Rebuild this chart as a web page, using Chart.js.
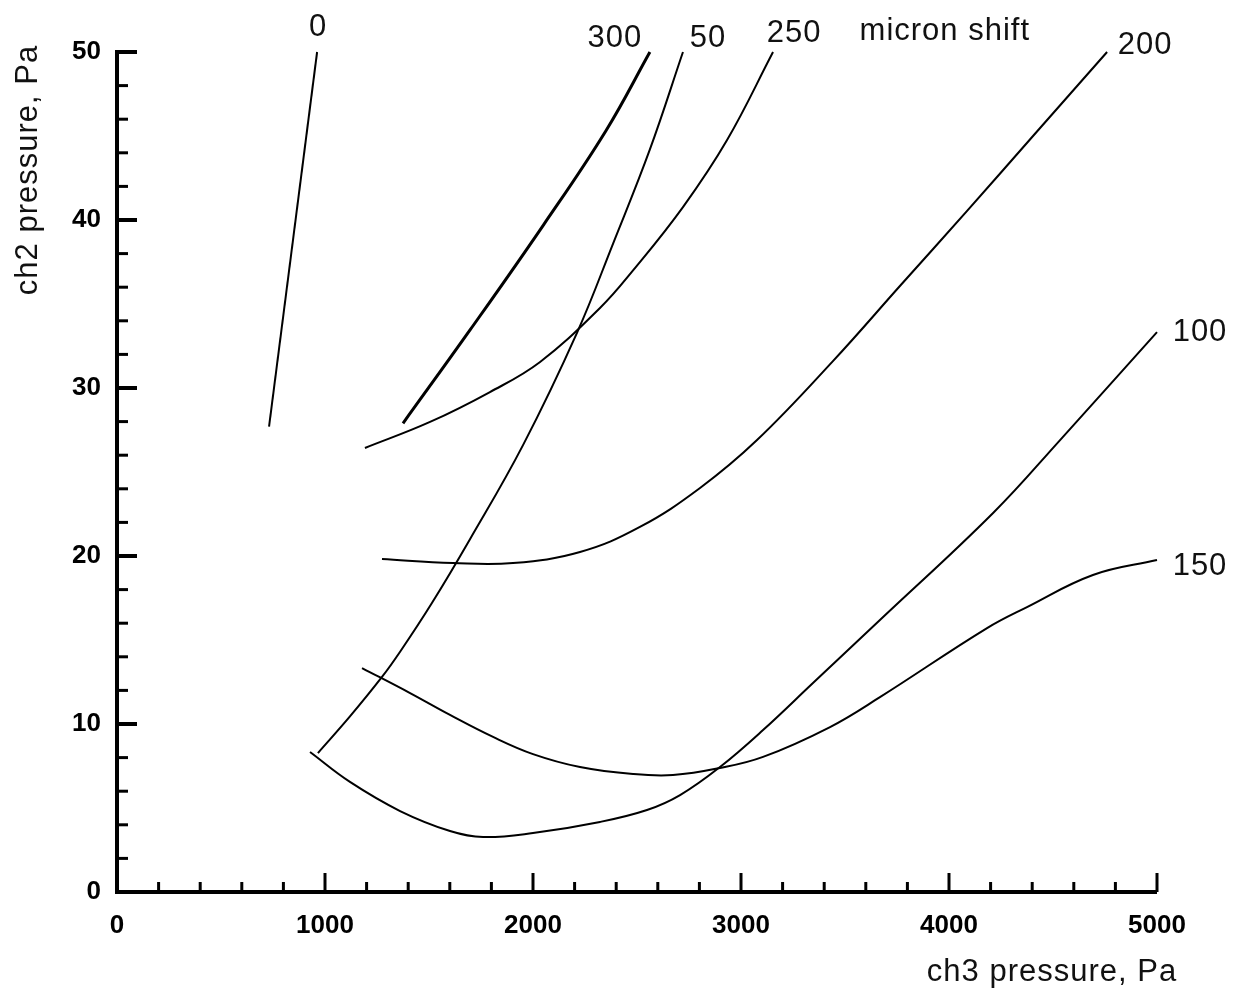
<!DOCTYPE html>
<html>
<head>
<meta charset="utf-8">
<title>micron shift</title>
<script src="https://cdn.jsdelivr.net/npm/chart.js@4.4.1/dist/chart.umd.min.js"></script>
<style>
    html, body { margin: 0; padding: 0; background: #fff; }
    #chart { display: block; }
</style>
</head>
<body>
<canvas id="chart" width="1248" height="992"></canvas>
<script>
// ===================================
// ch2 vs ch3 pressure, one curve per micron shift
// ===================================

const shiftNames = ['0', '300', '50', '250', '200', '100', '150'];

// ch3 pressure (Pa) / ch2 pressure (Pa) for each shift
const shift0X = [731, 962];
const shift0Y = [27.7, 50];

const shift300X = [1375, 1700, 2050, 2350, 2562];
const shift300Y = [27.9, 33.5, 39.7, 45.3, 50];

const shift50X = [966, 1120, 1274, 1361, 1514, 1697, 1952, 2212, 2385, 2562, 2721];
const shift50Y = [8.27, 10.45, 12.8, 14.3, 17.2, 21.0, 26.6, 33.3, 38.6, 44.2, 50];

const shift250X = [1192, 1505, 1793, 2034, 2322, 2481, 2721, 2933, 3154];
const shift250Y = [26.43, 27.98, 29.76, 31.55, 34.76, 37.0, 40.77, 44.76, 50];

const shift200X = [1274, 1615, 1904, 2226, 2514, 2803, 3077, 3442, 3764, 4087, 4404, 4760];
const shift200Y = [19.82, 19.58, 19.58, 20.24, 21.73, 24.05, 26.9, 31.6, 36.07, 40.54, 45.0, 50];

const shift100X = [928, 1120, 1361, 1601, 1760, 2000, 2322, 2548, 2707, 2899, 3106, 3346, 3668, 4212, 4534, 5000];
const shift100Y = [8.33, 6.55, 4.82, 3.63, 3.27, 3.51, 4.17, 4.88, 5.77, 7.44, 9.64, 12.44, 16.19, 22.56, 26.9, 33.33];

const shift150X = [1178, 1409, 1601, 1808, 2000, 2226, 2481, 2673, 2899, 3106, 3428, 3668, 4183, 4375, 4692, 5000];
const shift150Y = [13.33, 11.84, 10.54, 9.23, 8.21, 7.44, 7.02, 6.96, 7.38, 8.04, 9.82, 11.6, 15.71, 16.96, 18.87, 19.76];

// axis ranges and tick steps
const xMin = 0, xMax = 5000, xMinorStep = 200, xMajorStep = 1000;
const yMin = 0, yMax = 50, yMinorStep = 2, yMajorStep = 10;

const xTitle = 'ch3 pressure, Pa';
const yTitle = 'ch2 pressure, Pa';
const legendTitle = 'micron shift';

const TEXT_FONT = '31px "Liberation Sans", Arial, sans-serif';
const TICK_FONT = { family: '"Liberation Sans", Arial, sans-serif', size: 26, weight: 'bold' };

// label placement next to the last point of each curve (px)
const labelOffsets = [[1, -25], [-35, -14], [25, -14], [21, -19], [38, -7], [43, 0], [43, 6]];

const seriesX = [shift0X, shift300X, shift50X, shift250X, shift200X, shift100X, shift150X];
const seriesY = [shift0Y, shift300Y, shift50Y, shift250Y, shift200Y, shift100Y, shift150Y];

function toPoints(xs, ys) {
    return xs.map((x, i) => ({ x: x, y: ys[i] }));
}

/**
 * Draws the axis frame with inward ticks, the titles and the curve labels
 */
const frameAndLabels = {
    id: 'frameAndLabels',
    afterDraw(chart) {
        const { ctx, chartArea: a, scales } = chart;
        const x = scales.x, y = scales.y;
        ctx.save();
        ctx.strokeStyle = '#000';
        ctx.lineCap = 'butt';

        // x ticks, pointing up
        x.ticks.forEach(t => {
            const px = x.getPixelForValue(t.value);
            const major = t.value % xMajorStep === 0;
            ctx.lineWidth = 3;
            ctx.beginPath();
            ctx.moveTo(px, a.bottom);
            ctx.lineTo(px, a.bottom - (major ? 19 : 10));
            ctx.stroke();
        });

        // y ticks, pointing right
        y.ticks.forEach(t => {
            const py = y.getPixelForValue(t.value);
            const major = t.value % yMajorStep === 0;
            ctx.lineWidth = major ? 4 : 3;
            ctx.beginPath();
            ctx.moveTo(a.left, py);
            ctx.lineTo(a.left + (major ? 20 : 11), py);
            ctx.stroke();
        });

        // axis lines
        ctx.lineWidth = 4;
        ctx.beginPath();
        ctx.moveTo(a.left, a.top - 2);
        ctx.lineTo(a.left, a.bottom);
        ctx.lineTo(a.right, a.bottom);
        ctx.stroke();

        ctx.fillStyle = '#111';
        ctx.font = TEXT_FONT;
        ctx.letterSpacing = '1px';

        // curve labels
        ctx.textAlign = 'center';
        ctx.textBaseline = 'middle';
        chart.data.datasets.forEach((ds, i) => {
            const last = ds.data[ds.data.length - 1];
            const px = x.getPixelForValue(last.x) + labelOffsets[i][0];
            const py = y.getPixelForValue(last.y) + labelOffsets[i][1];
            ctx.fillText(ds.label, px, py);
        });

        ctx.textAlign = 'left';
        ctx.fillText(legendTitle, x.getPixelForValue(3570), a.top - 21);

        // axis titles
        ctx.textAlign = 'center';
        ctx.textBaseline = 'alphabetic';
        ctx.fillText(xTitle, 1052, 981);

        ctx.translate(37, 170);
        ctx.rotate(-Math.PI / 2);
        ctx.fillText(yTitle, 0, 0);
        ctx.restore();
    }
};

document.addEventListener('DOMContentLoaded', () => {
    const ctx = document.getElementById('chart');

    const datasets = shiftNames.map((name, i) => ({
        label: name,
        data: toPoints(seriesX[i], seriesY[i]),
        borderColor: '#000',
        borderWidth: name === '300' ? 3 : 2,
        pointRadius: 0,
        fill: false,
        tension: 0.4,
        clip: false
    }));

    new Chart(ctx, {
        type: 'line',
        data: { datasets: datasets },
        options: {
            responsive: false,
            animation: false,
            devicePixelRatio: 1,
            layout: {
                padding: { top: 52, right: 91, bottom: 0, left: 0 }
            },
            plugins: {
                legend: { display: false },
                tooltip: { enabled: false }
            },
            scales: {
                x: {
                    type: 'linear',
                    min: xMin,
                    max: xMax,
                    afterFit: scale => { scale.height = 100; },
                    grid: { display: false, drawTicks: false },
                    border: { display: false },
                    ticks: {
                        stepSize: xMinorStep,
                        autoSkip: false,
                        maxRotation: 0,
                        padding: 18,
                        color: '#000',
                        font: TICK_FONT,
                        callback: v => (v % xMajorStep === 0 ? String(v) : '')
                    }
                },
                y: {
                    type: 'linear',
                    min: yMin,
                    max: yMax,
                    afterFit: scale => { scale.width = 117; },
                    grid: { display: false, drawTicks: false },
                    border: { display: false },
                    ticks: {
                        stepSize: yMinorStep,
                        autoSkip: false,
                        padding: 16,
                        color: '#000',
                        font: TICK_FONT,
                        callback: v => (v % yMajorStep === 0 ? String(v) : '')
                    }
                }
            }
        },
        plugins: [frameAndLabels]
    });
});
</script>
</body>
</html>
